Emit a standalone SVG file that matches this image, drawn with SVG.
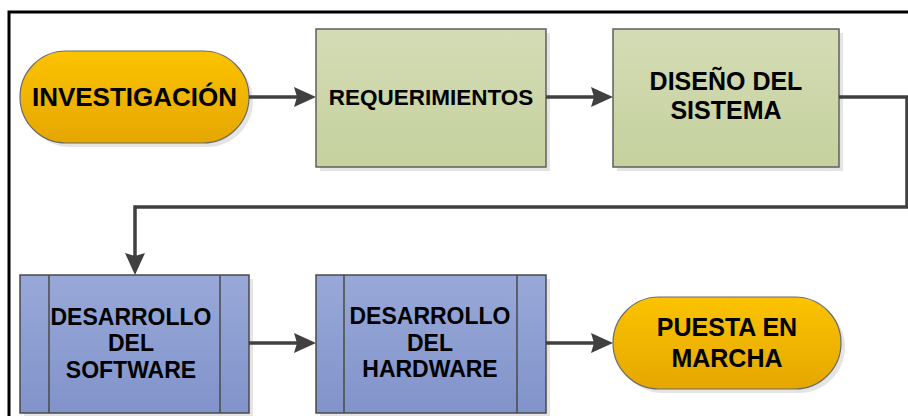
<svg xmlns="http://www.w3.org/2000/svg" width="908" height="416" viewBox="0 0 908 416">
  <defs>
    <linearGradient id="gYellow" x1="0" y1="0" x2="0" y2="1">
      <stop offset="0" stop-color="#FBC300"/>
      <stop offset="1" stop-color="#E5A700"/>
    </linearGradient>
    <linearGradient id="gGreen" x1="0" y1="0" x2="0" y2="1">
      <stop offset="0" stop-color="#D4DCB5"/>
      <stop offset="1" stop-color="#C5D19E"/>
    </linearGradient>
    <linearGradient id="gBlue" x1="0" y1="0" x2="0" y2="1">
      <stop offset="0" stop-color="#98A8D8"/>
      <stop offset="1" stop-color="#8193CA"/>
    </linearGradient>
    <marker id="arrow" markerUnits="userSpaceOnUse" markerWidth="22" markerHeight="20" refX="10" refY="10" orient="auto">
      <path d="M0,0 L22,10 L0,20 L3,10 z" fill="#404040"/>
    </marker>
  </defs>
  <style>
    .shadow { fill: #e4e4e4; }
    .term { fill: url(#gYellow); stroke: #6b6b6b; stroke-width: 1.2; }
    .proc { fill: url(#gGreen); stroke: #5f5f5f; stroke-width: 1.5; }
    .sub { fill: url(#gBlue); stroke: #4a4a4a; stroke-width: 1.5; }
    .sub-line { stroke: #4a4a4a; stroke-width: 1.5; }
    .label { font-family: "Liberation Sans", Arial, sans-serif; font-weight: bold; fill: #000; text-anchor: middle; }
    .conn { fill: none; stroke: #404040; stroke-width: 3.5; marker-end: url(#arrow); }
  </style>

  <rect width="908" height="416" fill="#ffffff"/>

  <!-- page frame -->
  <path d="M9,416 V12 H908" fill="none" stroke="#000" stroke-width="3"/>

  <g id="investigacion">
    <rect class="shadow" x="24" y="55" width="229" height="92" rx="46"/>
    <rect class="term" x="20" y="51" width="229" height="92" rx="46"/>
    <text class="label" x="134.5" y="106" font-size="26">INVESTIGACIÓN</text>
  </g>

  <g id="requerimientos">
    <rect class="shadow" x="320" y="33" width="230" height="138"/>
    <rect class="proc" x="316" y="29" width="230" height="138"/>
    <text class="label" x="431" y="105" font-size="22.5">REQUERIMIENTOS</text>
  </g>

  <g id="diseno">
    <rect class="shadow" x="617" y="33" width="226" height="138"/>
    <rect class="proc" x="613" y="29" width="226" height="138"/>
    <text class="label" x="726" y="90" font-size="25">DISEÑO DEL</text>
    <text class="label" x="726" y="119" font-size="25">SISTEMA</text>
  </g>

  <g id="software">
    <rect class="shadow" x="24" y="279" width="229" height="138"/>
    <rect class="sub" x="20" y="275" width="229" height="138"/>
    <line class="sub-line" x1="49" y1="275" x2="49" y2="413"/>
    <line class="sub-line" x1="220" y1="275" x2="220" y2="413"/>
    <text class="label" x="131" y="325" font-size="23">DESARROLLO</text>
    <text class="label" x="131" y="351" font-size="23">DEL</text>
    <text class="label" x="131" y="378" font-size="23">SOFTWARE</text>
  </g>

  <g id="hardware">
    <rect class="shadow" x="320" y="279" width="230" height="138"/>
    <rect class="sub" x="316" y="275" width="230" height="138"/>
    <line class="sub-line" x1="344" y1="275" x2="344" y2="413"/>
    <line class="sub-line" x1="517" y1="275" x2="517" y2="413"/>
    <text class="label" x="430" y="324" font-size="23">DESARROLLO</text>
    <text class="label" x="430" y="351" font-size="23">DEL</text>
    <text class="label" x="430" y="377" font-size="23">HARDWARE</text>
  </g>

  <g id="puesta">
    <rect class="shadow" x="617" y="301" width="228" height="92" rx="46"/>
    <rect class="term" x="613" y="297" width="228" height="92" rx="46"/>
    <text class="label" x="727" y="336" font-size="25">PUESTA EN</text>
    <text class="label" x="727" y="367" font-size="25">MARCHA</text>
  </g>

  <!-- connectors, drawn over the node shadows -->
  <g id="connectors">
    <path class="conn" d="M249,97 H304"/>
    <path class="conn" d="M546,97 H601"/>
    <path class="conn" d="M839,97 H907 V207 H135 V263"/>
    <path class="conn" d="M249,343 H304"/>
    <path class="conn" d="M546,343 H601"/>
  </g>
</svg>
